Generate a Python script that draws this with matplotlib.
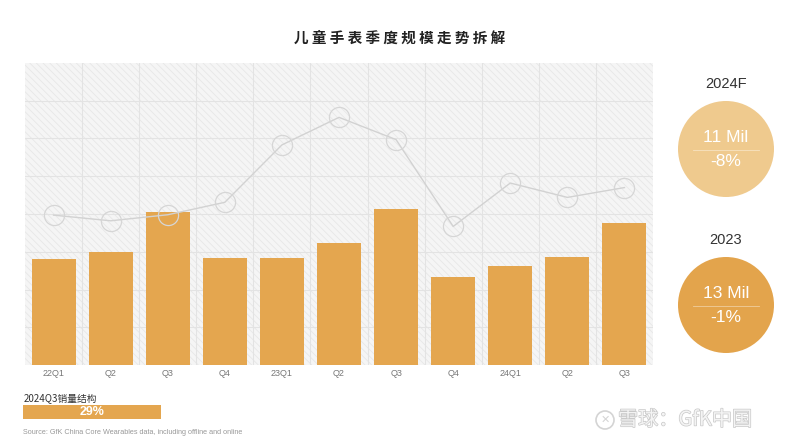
import numpy as np
import matplotlib
matplotlib.use("Agg")
import matplotlib.pyplot as plt
from matplotlib import font_manager as fm
from matplotlib.patches import Rectangle, Circle
import matplotlib.patheffects as pe

plt.rcParams['font.family'] = ['Noto Sans CJK SC', 'DejaVu Sans']
plt.rcParams['hatch.linewidth'] = 0.5

# ── data ──
quarters = ["22Q1", "Q2", "Q3", "Q4", "23Q1", "Q2", "Q3", "Q4", "24Q1", "Q2", "Q3"]
volume   = [2.82, 3.00, 4.04, 2.83, 2.84, 3.23, 4.14, 2.32, 2.62, 2.87, 3.77]
trend    = [3.97, 3.82, 3.98, 4.31, 5.83, 6.56, 5.97, 3.67, 4.82, 4.44, 4.70]

summary_years  = ["2024F", "2023"]
summary_volume = ["11 Mil", "13 Mil"]
summary_growth = ["-8%", "-1%"]
summary_colors = ["#EFCA8E", "#E3A44C"]

share_label = "2024Q3销量结构"
share_value = 29

BAR = "#E4A64F"
W, H = 800, 448


def arial_like(bold=False):
    # pick the regular-width Liberation Sans file, not the Narrow one
    want = "LiberationSans-Bold." if bold else "LiberationSans-Regular."
    for f in fm.fontManager.ttflist:
        if want in f.fname:
            return fm.FontProperties(fname=f.fname)
    return fm.FontProperties(family="DejaVu Sans", weight="bold" if bold else "normal")


def fp(size, bold=False):
    p = arial_like(bold).copy()
    p.set_size(size)
    return p


fig = plt.figure(figsize=(W / 100, H / 100), dpi=100)

# ── main chart ──
ax = fig.add_axes([25 / W, 1 - 365 / H, 628 / W, 302 / H])
x = np.arange(len(quarters))
ax.set_xlim(-0.5, len(quarters) - 0.5)
ax.set_ylim(0, 8)
ax.add_patch(Rectangle((0, 0), 1, 1, transform=ax.transAxes, facecolor="#f5f5f5",
                       edgecolor="#e5e5e5", hatch="\\\\\\\\\\", linewidth=0, zorder=0))
for xv in np.arange(0.5, len(quarters) - 0.5, 1):
    ax.axvline(xv, color="#e3e3e3", lw=0.8, zorder=1)
for yv in range(1, 8):
    ax.axhline(yv, color="#e3e3e3", lw=0.8, zorder=1)

ax.bar(x, volume, width=0.77, color=BAR, zorder=2)
ax.plot(x, trend, color="#d2d2d2", lw=1.0, marker="o", ms=14.5, mfc="none",
        mec="#d6d6d6", mew=0.9, zorder=3)

ax.set_xticks(x)
ax.set_xticklabels(quarters, color="#777777", fontproperties=fp(6.5))
ax.tick_params(axis="x", length=0, pad=3)
ax.set_yticks([])
for s in ax.spines.values():
    s.set_visible(False)

# ── overlay for title, circles, notes ──
ov = fig.add_axes([0, 0, 1, 1], facecolor="none")
ov.set_xlim(0, W)
ov.set_ylim(H, 0)
ov.axis("off")

ov.text(400, 38, " ".join("儿童手表季度规模走势拆解"), ha="center", va="center",
        fontsize=10.5, fontweight="bold", color="#222222")

centers_y = [149, 305]
for yr, vol, gr, col, cy in zip(summary_years, summary_volume, summary_growth,
                                 summary_colors, centers_y):
    ov.text(726, cy - 65, yr, ha="center", va="center", color="#333333",
            fontproperties=fp(10.5))
    ov.add_patch(Circle((726, cy), 48, facecolor=col, edgecolor="none"))
    ov.plot([693, 759], [cy + 1, cy + 1], color="white", alpha=0.45, lw=0.6)
    ov.text(726, cy - 11, vol, ha="center", va="center", color="white",
            fontproperties=fp(12.5))
    ov.text(726, cy + 13, gr, ha="center", va="center", color="white",
            fontproperties=fp(12.5))

# ── share bar ──
ov.text(24, 398, share_label, ha="left", va="center", fontsize=7, color="#333333")
sb = fig.add_axes([23 / W, 1 - 419 / H, 138 / W, 14 / H])
sb.barh([0], [share_value], height=1, color=BAR)
sb.set_xlim(0, share_value)
sb.set_ylim(-0.5, 0.5)
sb.axis("off")
sb.text(share_value / 2, 0, f"{share_value}%", ha="center", va="center",
        color="white", fontproperties=fp(9, bold=True))

ov.text(23, 433, "Source: GfK China Core Wearables data, including offline and online",
        ha="left", va="center", color="#999999", fontproperties=fp(5.2))

# ── watermark ──
ov.add_patch(Circle((605, 420), 9, facecolor="none", edgecolor="#d4d4d4", lw=1.2))
ov.text(605, 420, "✕", ha="center", va="center", fontsize=8, color="#d4d4d4",
        family="DejaVu Sans")
ov.text(618, 420, "雪球：GfK中国", ha="left", va="center", fontsize=14.5,
        color="#f4f4f4",
        path_effects=[pe.withStroke(linewidth=1.0, foreground="#c8c8c8")])

fig.savefig("out.png", dpi=100)
